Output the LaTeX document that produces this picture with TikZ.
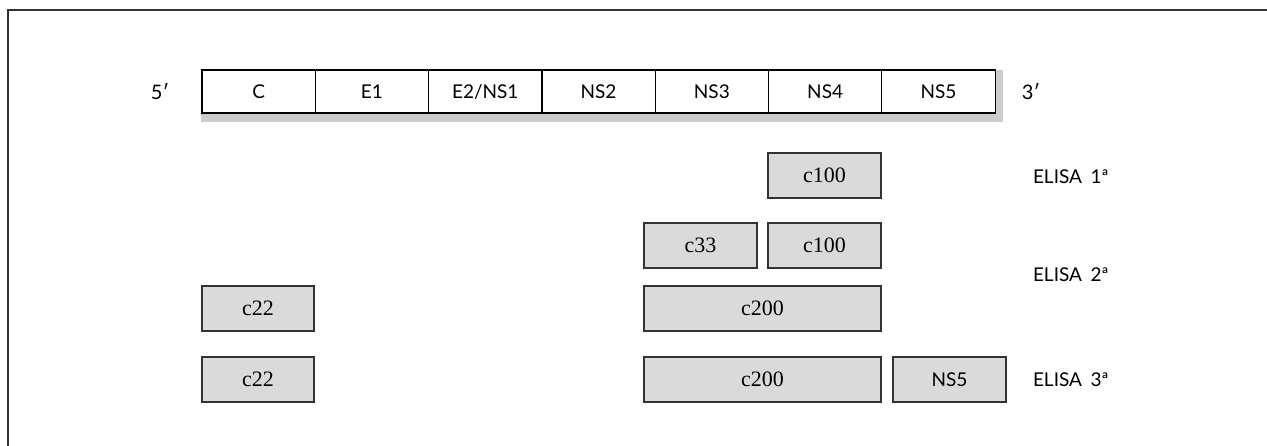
\documentclass[tikz,border=0pt]{standalone}
\usepackage{fontspec}
\setmainfont{Lato}
\newfontfamily\protfont{Liberation Serif}
\definecolor{shadowgray}{HTML}{CCCCCC}
\definecolor{boxgray}{HTML}{DADADA}
\definecolor{edgegray}{HTML}{333333}
\begin{document}
\begin{tikzpicture}[x=1pt,y=-1pt,
  every node/.style={inner sep=0pt, outer sep=0pt},
  segbox/.style={draw=black, line width=1.2pt, fill=white, anchor=north west,
    minimum width=113.3pt, minimum height=43pt, font=\fontsize{19}{22}\selectfont},
  featbox/.style={draw=edgegray, line width=1.2pt, fill=boxgray, anchor=north west,
    minimum height=45pt, font=\protfont\fontsize{22}{26}\selectfont},
  endlabel/.style={font=\fontsize{20}{24}\selectfont},
  assay/.style={anchor=west, font=\fontsize{19}{22}\selectfont}]
  \useasboundingbox (0,0) rectangle (1267,446);
  % frame along the top and left edges
  \draw[line width=1.3pt, edgegray] (1267,10) -- (8,10) -- (8,446);
  % shadow behind the genome bar
  \fill[shadowgray] (201,70) rectangle (1003,122);
  % genome segments
  \foreach \lab [count=\i] in {C,E1,E2/NS1,NS2,NS3,NS4,NS5}
    \node[segbox] (seg\i) at ({202+113.3*(\i-1)},70) {\lab};
  \node[endlabel] (five) at (160,92) {5′};
  \node[endlabel] (three) at (1031,92) {3′};
  % first-generation assay
  \node[featbox, minimum width=113pt] (ca) at (768,153) {c100};
  \node[assay] (e1) at (1033,177) {ELISA\hspace{0.45em}1ª};
  % second-generation assay
  \node[featbox, minimum width=113pt] (cb) at (644,223) {c33};
  \node[featbox, minimum width=113pt] (cc) at (768,223) {c100};
  \node[featbox, minimum width=112pt] (cd) at (202,286) {c22};
  \node[featbox, minimum width=237pt] (ce) at (644,286) {c200};
  \node[assay] (e2) at (1033,275) {ELISA\hspace{0.45em}2ª};
  % third-generation assay
  \node[featbox, minimum width=112pt] (cf) at (202,357) {c22};
  \node[featbox, minimum width=237pt] (cg) at (644,357) {c200};
  \node[featbox, minimum width=113pt, font=\fontsize{19}{22}\selectfont] (ch) at (893,357) {NS5};
  \node[assay] (e3) at (1033,380) {ELISA\hspace{0.45em}3ª};
\end{tikzpicture}
\end{document}
